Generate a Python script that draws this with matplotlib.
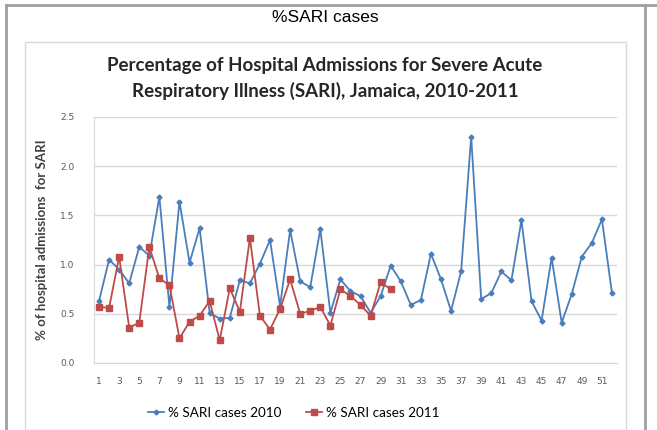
import matplotlib.pyplot as plt
import numpy as np
from matplotlib.patches import Rectangle
from matplotlib.lines import Line2D

BLUE = "#4a7ebb"
RED = "#be4b48"

weeks_2010 = list(range(1, 53))
sari_2010 = [0.63, 1.05, 0.95, 0.81, 1.18, 1.09, 1.69, 0.57, 1.64, 1.02,
             1.37, 0.51, 0.45, 0.46, 0.84, 0.81, 1.01, 1.25, 0.58, 1.35,
             0.83, 0.77, 1.36, 0.51, 0.85, 0.73, 0.68, 0.51, 0.68, 0.99,
             0.83, 0.59, 0.64, 1.11, 0.85, 0.53, 0.93, 2.30, 0.65, 0.71,
             0.93, 0.84, 1.45, 0.63, 0.43, 1.07, 0.41, 0.70, 1.08, 1.22,
             1.46, 0.71]
weeks_2011 = list(range(1, 31))
sari_2011 = [0.57, 0.56, 1.08, 0.36, 0.41, 1.18, 0.86, 0.79, 0.25, 0.42,
             0.48, 0.63, 0.23, 0.76, 0.52, 1.27, 0.48, 0.34, 0.55, 0.85,
             0.50, 0.53, 0.57, 0.38, 0.75, 0.68, 0.59, 0.48, 0.82, 0.75]
y_ticks = [0.0, 0.5, 1.0, 1.5, 2.0, 2.5]
x_ticks = list(range(1, 53, 2))

W, H = 657, 430
fig = plt.figure(figsize=(W / 100, H / 100), dpi=100)

# outer frame of the slide cell
fig.add_artist(Line2D([6 / W, 1], [1 - 5 / H, 1 - 5 / H], color="#a0a0a0", lw=2))
fig.add_artist(Line2D([6 / W, 6 / W], [0, 1 - 5 / H], color="#a0a0a0", lw=2))
fig.add_artist(Line2D([645 / W, 645 / W], [0, 1 - 5 / H], color="#a0a0a0", lw=2))
fig.text(325 / W, 1 - 17 / H, "%SARI cases", ha="center", va="center",
         fontsize=12.5, family="Liberation Sans")

# chart box
fig.add_artist(Rectangle((25 / W, 0), (626 - 25) / W, 1 - 42 / H,
                         fill=False, ec="#d9d9d9", lw=1))
fig.text(325 / W, 1 - 66 / H, "Percentage of Hospital Admissions for Severe Acute",
         ha="center", va="center", fontsize=13.5, fontweight="bold", family="Lato",
         color="#262626")
fig.text(325 / W, 1 - 91 / H, "Respiratory Illness (SARI), Jamaica, 2010-2011",
         ha="center", va="center", fontsize=13.5, fontweight="bold", family="Lato",
         color="#262626")

ax = fig.add_axes([94 / W, 1 - 363 / H, (617 - 94) / W, (363 - 117) / H])
ax.plot(weeks_2010, sari_2010, color=BLUE, lw=1.3, marker="D", ms=2.5,
        label="% SARI cases 2010")
ax.plot(weeks_2011, sari_2011, color=RED, lw=1.3, marker="s", ms=4,
        label="% SARI cases 2011")
ax.set_xlim(0.5, 52.5)
ax.set_ylim(0, 2.5)
ax.set_yticks(y_ticks)
ax.set_yticklabels([f"{v:.1f}" for v in y_ticks])
ax.set_xticks(x_ticks)
ax.tick_params(axis="both", labelsize=6.5, colors="#595959", length=0, pad=10)
ax.tick_params(axis="y", pad=14)
ax.grid(axis="y", color="#d9d9d9", lw=1)
ax.set_axisbelow(True)
for s in ["top", "right"]:
    ax.spines[s].set_visible(False)
ax.spines["left"].set_color("#d9d9d9")
ax.spines["bottom"].set_color("#d9d9d9")
ax.set_ylabel("% of hospital admissions  for SARI", fontsize=9.5,
              fontweight="bold", family="Lato", color="#404040", labelpad=9)

ax.legend(loc="upper center", bbox_to_anchor=((294 - 94) / (617 - 94), -0.13),
          ncol=2, frameon=False, prop={"family": "Lato", "size": 9.7},
          handlelength=1.2, handletextpad=0.3, columnspacing=1.8)

fig.savefig("out.png", dpi=100)
